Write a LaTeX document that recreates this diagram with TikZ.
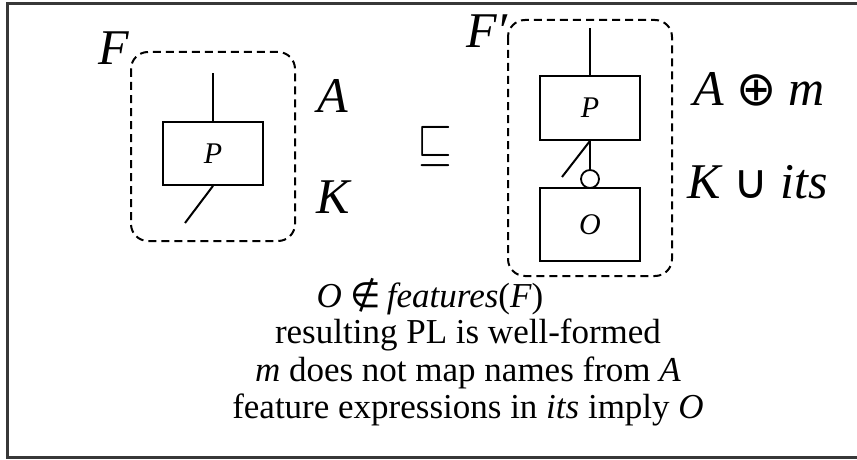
\documentclass[tikz,border=0pt]{standalone}
\usepackage{fontspec}
\setmainfont{Liberation Serif}
\newfontfamily\symfont{DejaVu Sans}
\tikzset{
  frameline/.style={line width=3pt, draw=black!78},
  featbox/.style={draw, line width=1.8pt, minimum width=100pt, inner sep=0pt},
  dashbox/.style={draw, line width=2pt, dash pattern=on 8pt off 5pt, rounded corners=17pt},
  conn/.style={line width=2pt},
  big/.style={font=\fontsize{50}{60}\selectfont\itshape, inner sep=0pt, anchor=base west},
  lbl/.style={font=\fontsize{30}{34}\selectfont\itshape, inner sep=0pt},
  cond/.style={font=\fontsize{35}{40}\selectfont, inner sep=0pt, anchor=base}
}
\newcommand{\bigsym}[1]{{\upshape\symfont\fontsize{48}{50}\selectfont #1}}
\begin{document}
\begin{tikzpicture}[x=1pt,y=-1pt]
\useasboundingbox (0,0) rectangle (857,460);
% outer frame
\draw[frameline] (857,4) -- (7,4) -- (7,457) -- (857,457);
% left feature tree F
\node[featbox, minimum height=63pt, lbl] (p1) at (213,153.5) {P};
\coordinate (p1top) at (213,73);
\coordinate (p1kid) at (185,223);
\draw[conn] (p1.north) -- (p1top);
\draw[conn] (p1.south) -- (p1kid);
\draw[dashbox] (131,52) rectangle (295,241);
\node[big] (lF) at (98,65) {F};
\node[big] (lA) at (317,112) {A};
\node[big] (lK) at (316,213) {K};
% refinement
\node[inner sep=0pt] (sq) at (435,146) {\scalebox{4.5}[5.2]{$\sqsubseteq$}};
% right feature tree F'
\node[featbox, minimum height=64pt, lbl] (p2) at (590,108) {P};
\coordinate (p2top) at (590,28);
\coordinate (p2kid) at (562,177);
\node[circle, draw, line width=1.8pt, minimum size=18pt, inner sep=0pt] (opt) at (590,179) {};
\node[featbox, minimum height=73pt, lbl] (o) at (590,224.5) {O};
\draw[conn] (p2.north) -- (p2top);
\draw[conn] (p2.south) -- (p2kid);
\draw[conn] (p2.south) -- (opt.north);
\draw[dashbox] (508,20) rectangle (672,276);
\node[big] (lF2) at (466,48) {F′};
\node[big] (lAm) at (693,105) {A \bigsym{⊕} m};
\node[big] (lKits) at (687,198) {K \bigsym{∪} its};
% conditions
\node[cond] (c1) at (430,307) {\textit{O} {\symfont ∉}\,\textit{features}(\textit{F})};
\node[cond] (c2) at (468,343) {resulting PL is well-formed};
\node[cond] (c3) at (468,381) {\textit{m} does not map names from \textit{A}};
\node[cond] (c4) at (468,418) {feature expressions in \textit{its} imply \textit{O}};
\end{tikzpicture}
\end{document}
